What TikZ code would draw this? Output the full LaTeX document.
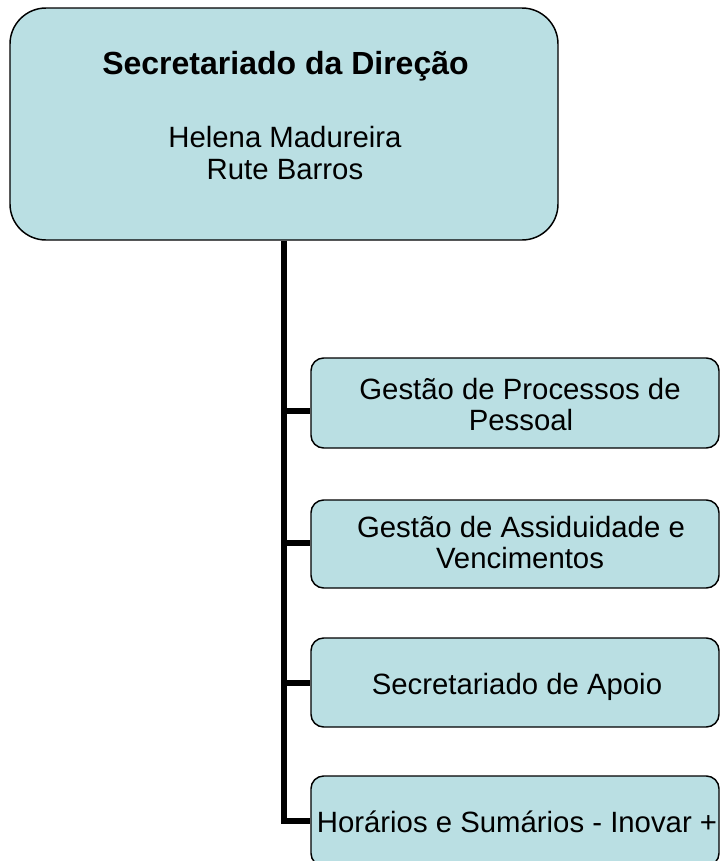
\documentclass[tikz,border=0pt]{standalone}
\usepackage{fontspec}
\setmainfont{Liberation Sans}
\definecolor{boxfill}{RGB}{186,223,227}
\begin{document}
\begin{tikzpicture}[x=0.75pt,y=-0.75pt,
  box/.style={draw=black, line width=1.1pt, fill=boxfill, rounded corners=9.5pt, inner sep=0pt, minimum width=306pt, minimum height=67.5pt},
  conn/.style={line width=4.5pt, draw=black},
  lbl/.style={anchor=base, inner sep=0pt, font=\fontsize{22}{24}\selectfont}]
\useasboundingbox (0,0) rectangle (720,861);
\node[box, rounded corners=27pt, minimum width=411pt, minimum height=174pt] (top) at (284,124) {};
\node[box] (b1) at (515,403) {};
\node[box, minimum height=66pt] (b2) at (515,544) {};
\node[box, minimum height=66.75pt] (b3) at (515,682.5) {};
\node[box] (b4) at (515,821) {};
% connectors
\draw[conn] (top.south) |- (b4.west);
\draw[conn] ([yshift=-6pt]b1.west -| top.south) -- ([yshift=-6pt]b1.west);
\draw[conn] ([yshift=1pt]b2.west -| top.south) -- ([yshift=1pt]b2.west);
\draw[conn] (b3.west -| top.south) -- (b3.west);
% texts
\node[lbl, font=\bfseries\fontsize{24}{28}\selectfont] (t0) at (285.5,74) {Secretariado da Direção};
\node[lbl] (t1) at (285,147) {Helena Madureira};
\node[lbl] (t2) at (285,179) {Rute Barros};
\node[lbl] (b1a) at (520,399) {Gestão de Processos de};
\node[lbl] (b1b) at (521,430) {Pessoal};
\node[lbl] (b2a) at (521,537) {Gestão de Assiduidade e};
\node[lbl] (b2b) at (520,568) {Vencimentos};
\node[lbl] (b3a) at (517,694) {Secretariado de Apoio};
\node[lbl] (b4a) at (517,832) {Horários e Sumários - Inovar +};
\end{tikzpicture}
\end{document}
